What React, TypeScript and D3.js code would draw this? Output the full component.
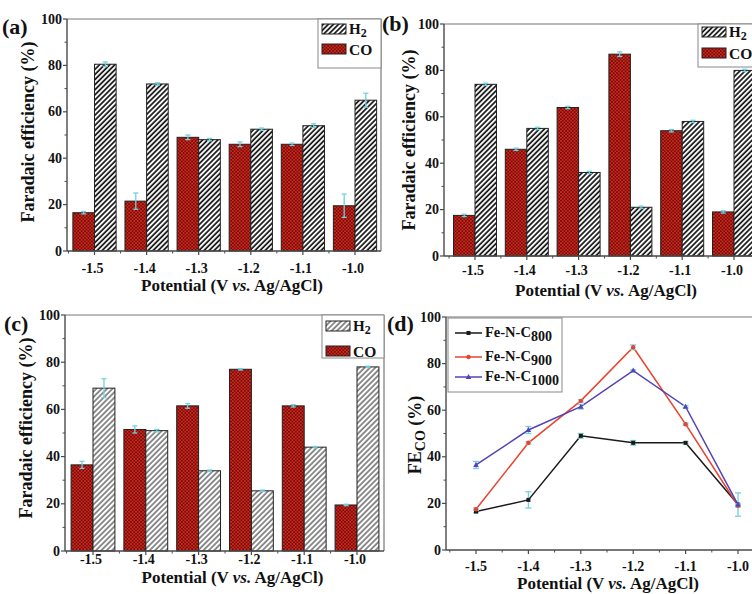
import React from "react";
import * as d3 from "d3";

const potentials = ["-1.5", "-1.4", "-1.3", "-1.2", "-1.1", "-1.0"];
const yTicks = [0, 20, 40, 60, 80, 100];
const yMinor = [10, 30, 50, 70, 90];

const coA = [16.5, 21.5, 49, 46, 46, 19.5];
const coAErr = [0.5, 3.5, 1, 1, 0.5, 5];
const h2A = [80.5, 72, 48, 52.5, 54, 65];
const h2AErr = [1, 0.5, 0.5, 0.5, 0.8, 3];

const coB = [17.5, 46, 64, 87, 54, 19];
const coBErr = [0.5, 0.5, 0.5, 1, 0.5, 0.5];
const h2B = [74, 55, 36, 21, 58, 80];
const h2BErr = [0.5, 0.5, 0.5, 0.5, 0.5, 0.5];

const coC = [36.5, 51.5, 61.5, 77, 61.5, 19.5];
const coCErr = [1.5, 1.5, 1, 0.3, 0.5, 0.3];
const h2C = [69, 51, 34, 25.5, 44, 78];
const h2CErr = [4, 0.5, 0.3, 0.3, 0.3, 0.3];

const seriesD = [
  { name: "800", values: coA, err: coAErr, color: "#1a1a1a", marker: "square" },
  { name: "900", values: coB, err: coBErr, color: "#e8432e", marker: "circle" },
  { name: "1000", values: coC, err: coCErr, color: "#5244b8", marker: "triangle" },
];

const FONT = "'Liberation Serif', 'Times New Roman', Times, serif";
const AXIS = "#4a4a4a";
const ERR = "#74d0de";
const TICK_FS = 14;

type Cfg = {
  left: number; right: number; top: number; bottom: number;
  c0: number; c1: number; label: string; labelX: number; labelY: number;
  tickY: number; titleY: number; yTitleX: number;
  legend: { x: number; y: number; w: number; h: number; r1: number; r2: number };
};

const cfgA: Cfg = {
  left: 67, right: 381, top: 19, bottom: 251, c0: 94.5, c1: 355, label: "(a)", labelX: 2, labelY: 34,
  tickY: 273, titleY: 291, yTitleX: 34,
  legend: { x: 318, y: 19, w: 63, h: 49, r1: 29, r2: 49 },
};
const cfgB: Cfg = {
  left: 444, right: 765, top: 24, bottom: 256, c0: 475, c1: 734, label: "(b)", labelX: 382, labelY: 31,
  tickY: 275, titleY: 296, yTitleX: 415,
  legend: { x: 698, y: 24, w: 70, h: 43, r1: 32, r2: 53 },
};
const cfgC: Cfg = {
  left: 65, right: 384, top: 315, bottom: 551, c0: 93, c1: 357, label: "(c)", labelX: 4, labelY: 331,
  tickY: 564, titleY: 583, yTitleX: 32,
  legend: { x: 322, y: 315, w: 62, h: 43, r1: 326, r2: 351 },
};

const txt = { fontFamily: FONT, fontWeight: 700 as const };

function PotentialTitle({ x, y }: { x: number; y: number }) {
  return (
    <text x={x} y={y} textAnchor="middle" style={txt} fontSize={17} fill="#111">
      Potential (V <tspan fontStyle="italic">vs.</tspan> Ag/AgCl)
    </text>
  );
}

function Axes({ cfg, x, y, frameRight }: any) {
  const step = x.step();
  const minors: number[] = [];
  for (let i = 0; i <= potentials.length; i++) {
    const v = cfg.c0 - step / 2 + i * step;
    if (v > cfg.left + 1 && v < cfg.right - 1) minors.push(v);
  }
  return (
    <g>
      <line x1={cfg.left} x2={cfg.right} y1={cfg.top} y2={cfg.top} stroke="#777" strokeWidth={1.2} />
      {frameRight && <line x1={cfg.right} x2={cfg.right} y1={cfg.top} y2={cfg.bottom} stroke="#777" strokeWidth={1.2} />}
      <line x1={cfg.left} x2={cfg.left} y1={cfg.top} y2={cfg.bottom} stroke={AXIS} strokeWidth={1.4} />
      <line x1={cfg.left} x2={cfg.right} y1={cfg.bottom} y2={cfg.bottom} stroke={AXIS} strokeWidth={1.4} />
      {yTicks.map((t) => (
        <g key={t}>
          <line x1={cfg.left - 4} x2={cfg.left} y1={y(t)} y2={y(t)} stroke={AXIS} strokeWidth={1.2} />
          <text x={cfg.left - 5} y={y(t) + 4.5} textAnchor="end" style={txt} fontSize={TICK_FS} fill="#111">{t}</text>
        </g>
      ))}
      {yMinor.map((t) => (
        <line key={t} x1={cfg.left - 2.5} x2={cfg.left} y1={y(t)} y2={y(t)} stroke={AXIS} strokeWidth={1} />
      ))}
      {potentials.map((p) => (
        <g key={p}>
          <line x1={x(p)} x2={x(p)} y1={cfg.bottom} y2={cfg.bottom + 4} stroke={AXIS} strokeWidth={1.2} />
          <text x={x(p) - 2} y={cfg.tickY} textAnchor="middle" style={txt} fontSize={TICK_FS} fill="#111">{p}</text>
        </g>
      ))}
      {minors.map((v, i) => (
        <line key={i} x1={v} x2={v} y1={cfg.bottom} y2={cfg.bottom + 2.5} stroke={AXIS} strokeWidth={1} />
      ))}
      <text x={cfg.labelX} y={cfg.labelY} style={txt} fontSize={22} fill="#111">{cfg.label}</text>
      <PotentialTitle x={(cfg.left + Math.min(cfg.right, 752)) / 2 + 8} y={cfg.titleY} />
    </g>
  );
}

function ErrBar({ x, y0, y1, w }: { x: number; y0: number; y1: number; w: number }) {
  return (
    <g stroke={ERR} strokeWidth={1.3}>
      <line x1={x} x2={x} y1={y0} y2={y1} />
      <line x1={x - w} x2={x + w} y1={y0} y2={y0} />
      <line x1={x - w} x2={x + w} y1={y1} y2={y1} />
    </g>
  );
}

function BarPanel({ cfg, co, coErr, h2, h2Err, hatch, frameRight }: any) {
  const x = d3.scalePoint<string>().domain(potentials).range([cfg.c0, cfg.c1]);
  const y = d3.scaleLinear().domain([0, 100]).range([cfg.bottom, cfg.top]);
  const bw = x.step() * 0.415;
  const lg = cfg.legend;
  return (
    <g>
      <clipPath id={"clip" + cfg.label}>
        <rect x={cfg.left} y={cfg.top - 2} width={cfg.right - cfg.left + 2} height={cfg.bottom - cfg.top + 2} />
      </clipPath>
      <g clipPath={`url(#clip${cfg.label})`}>
        {potentials.map((p, i) => (
          <g key={p}>
            <rect x={(x(p) as number) - bw} y={y(co[i])} width={bw} height={cfg.bottom - y(co[i])} fill="url(#coPat)" stroke="#222" strokeWidth={1} />
            <rect x={x(p) as number} y={y(h2[i])} width={bw} height={cfg.bottom - y(h2[i])} fill={`url(#${hatch})`} stroke="#222" strokeWidth={1} />
            <ErrBar x={(x(p) as number) - bw / 2} y0={y(co[i] - coErr[i])} y1={y(co[i] + coErr[i])} w={2.5} />
            <ErrBar x={(x(p) as number) + bw / 2} y0={y(h2[i] - h2Err[i])} y1={y(h2[i] + h2Err[i])} w={2.5} />
          </g>
        ))}
      </g>
      <Axes cfg={cfg} x={x} y={y} frameRight={frameRight} />
      <rect x={lg.x} y={lg.y} width={lg.w} height={lg.h} fill="white" stroke="#888" strokeWidth={1} />
      <rect x={lg.x + 4} y={lg.r1 - 5} width={24} height={10} fill={`url(#${hatch})`} stroke="#222" strokeWidth={1} />
      <text x={lg.x + 31} y={lg.r1 + 5} style={txt} fontSize={15} fill="#111">
        H<tspan dy={3} fontSize={12}>2</tspan>
      </text>
      <rect x={lg.x + 4} y={lg.r2 - 5} width={24} height={10} fill="url(#coPat)" stroke="#222" strokeWidth={1} />
      <text x={lg.x + 31} y={lg.r2 + 5.5} style={txt} fontSize={15.5} fill="#111">CO</text>
    </g>
  );
}

function Marker({ type, x, y, color }: any) {
  if (type === "square") return <rect x={x - 2} y={y - 2} width={4} height={4} fill={color} />;
  if (type === "circle") return <circle cx={x} cy={y} r={2.2} fill={color} />;
  return <path d={`M${x},${y - 3}L${x + 2.8},${y + 2}L${x - 2.8},${y + 2}Z`} fill={color} />;
}

function LinePanel() {
  const cfg = { left: 446, right: 770, top: 317, bottom: 550, c0: 476, c1: 738, tickY: 571, titleY: 589 };
  const x = d3.scalePoint<string>().domain(potentials).range([cfg.c0, cfg.c1]);
  const y = d3.scaleLinear().domain([0, 100]).range([cfg.bottom, cfg.top]);
  const line = d3.line<number>().x((_, i) => x(potentials[i]) as number).y((v) => y(v));
  const step = x.step();
  const minors: number[] = [];
  for (let i = 0; i <= potentials.length; i++) {
    const v = cfg.c0 - step / 2 + i * step;
    if (v > cfg.left + 1 && v < 752) minors.push(v);
  }
  const legendRows = [333, 357, 377];
  return (
    <g>
      <line x1={cfg.left} x2={cfg.right} y1={cfg.top} y2={cfg.top} stroke="#777" strokeWidth={1.2} />
      <line x1={cfg.left} x2={cfg.left} y1={cfg.top} y2={cfg.bottom} stroke={AXIS} strokeWidth={1.4} />
      <line x1={cfg.left} x2={cfg.right} y1={cfg.bottom} y2={cfg.bottom} stroke={AXIS} strokeWidth={1.4} />
      {yTicks.map((t) => (
        <g key={t}>
          <line x1={cfg.left - 4} x2={cfg.left} y1={y(t)} y2={y(t)} stroke={AXIS} strokeWidth={1.2} />
          <text x={cfg.left - 5} y={y(t) + 4.5} textAnchor="end" style={txt} fontSize={TICK_FS} fill="#111">{t}</text>
        </g>
      ))}
      {yMinor.map((t) => (
        <line key={t} x1={cfg.left - 2.5} x2={cfg.left} y1={y(t)} y2={y(t)} stroke={AXIS} strokeWidth={1} />
      ))}
      {potentials.map((p) => (
        <g key={p}>
          <line x1={x(p)} x2={x(p)} y1={cfg.bottom} y2={cfg.bottom + 4} stroke={AXIS} strokeWidth={1.2} />
          <text x={x(p)} y={cfg.tickY} textAnchor="middle" style={txt} fontSize={TICK_FS} fill="#111">{p}</text>
        </g>
      ))}
      {minors.map((v, i) => (
        <line key={i} x1={v} x2={v} y1={cfg.bottom} y2={cfg.bottom + 2.5} stroke={AXIS} strokeWidth={1} />
      ))}
      {seriesD.map((s) => (
        <path key={s.name} d={line(s.values) || ""} fill="none" stroke={s.color} strokeWidth={1.5} />
      ))}
      {seriesD.map((s) => (
        <g key={s.name}>
          {s.values.map((v, i) => (
            <g key={i}>
              <ErrBar x={x(potentials[i]) as number} y0={y(v - s.err[i])} y1={y(v + s.err[i])} w={3} />
              <Marker type={s.marker} x={x(potentials[i])} y={y(v)} color={s.color} />
            </g>
          ))}
        </g>
      ))}
      <text x={387} y={331} style={txt} fontSize={22} fill="#111">(d)</text>
      <PotentialTitle x={608} y={cfg.titleY} />
      <text transform={`translate(421,435) rotate(-90)`} textAnchor="middle" style={txt} fontSize={18} fill="#111">
        FE<tspan dy={4} fontSize={14}>CO</tspan><tspan dy={-4}> (%)</tspan>
      </text>
      <rect x={448} y={318} width={114} height={74} fill="white" stroke="#888" strokeWidth={1} />
      {seriesD.map((s, i) => (
        <g key={s.name}>
          <line x1={455} x2={482} y1={legendRows[i]} y2={legendRows[i]} stroke={s.color} strokeWidth={1.5} />
          <Marker type={s.marker} x={468.5} y={legendRows[i]} color={s.color} />
          <text x={485} y={legendRows[i] + 4} style={txt} fontSize={14.5} fill="#111">
            Fe-N-C<tspan dy={4} fontSize={14}>{s.name}</tspan>
          </text>
        </g>
      ))}
    </g>
  );
}

function YTitle({ x, y }: { x: number; y: number }) {
  return (
    <text transform={`translate(${x},${y}) rotate(-90)`} textAnchor="middle" style={txt} fontSize={18} fill="#111">
      Faradaic efficiency (%)
    </text>
  );
}

export default function App() {
  return (
    <svg width={752} height={594} style={{ position: "absolute", left: 0, top: 0, background: "white" }}>
      <defs>
        <pattern id="hatch" width={3.6} height={3.6} patternUnits="userSpaceOnUse" patternTransform="rotate(45)">
          <rect width={3.6} height={3.6} fill="white" />
          <line x1={1} x2={1} y1={0} y2={3.6} stroke="#111" strokeWidth={1.7} />
        </pattern>
        <pattern id="hatchLight" width={3.8} height={3.8} patternUnits="userSpaceOnUse" patternTransform="rotate(45)">
          <rect width={3.8} height={3.8} fill="white" />
          <line x1={1} x2={1} y1={0} y2={3.8} stroke="#333" strokeWidth={1.1} />
        </pattern>
        <pattern id="coPat" width={3.4} height={3.4} patternUnits="userSpaceOnUse">
          <rect width={3.4} height={3.4} fill="#d8261a" />
          <circle cx={0} cy={0} r={0.8} fill="#3a0404" />
          <circle cx={3.4} cy={0} r={0.8} fill="#3a0404" />
          <circle cx={0} cy={3.4} r={0.8} fill="#3a0404" />
          <circle cx={3.4} cy={3.4} r={0.8} fill="#3a0404" />
          <circle cx={1.7} cy={1.7} r={0.8} fill="#3a0404" />
        </pattern>
      </defs>
      <rect width={752} height={594} fill="white" />
      <BarPanel cfg={cfgA} co={coA} coErr={coAErr} h2={h2A} h2Err={h2AErr} hatch="hatch" frameRight />
      <YTitle x={cfgA.yTitleX} y={132} />
      <BarPanel cfg={cfgB} co={coB} coErr={coBErr} h2={h2B} h2Err={h2BErr} hatch="hatch" frameRight={false} />
      <YTitle x={cfgB.yTitleX} y={140} />
      <BarPanel cfg={cfgC} co={coC} coErr={coCErr} h2={h2C} h2Err={h2CErr} hatch="hatchLight" frameRight />
      <YTitle x={cfgC.yTitleX} y={428} />
      <LinePanel />
    </svg>
  );
}
